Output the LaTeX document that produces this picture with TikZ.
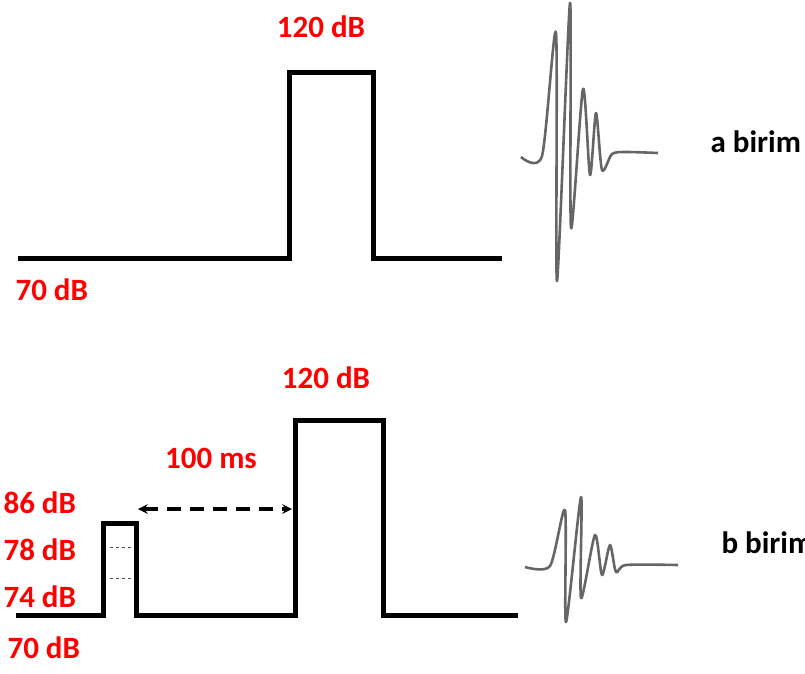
\documentclass[tikz,border=0pt]{standalone}
\usepackage{fontspec}
\setmainfont{Carlito}
\usetikzlibrary{positioning}

\begin{document}
\begin{tikzpicture}[>=stealth, x=1pt, y=-1pt,
    trace/.style={line width=5pt, line join=miter},
    wave/.style={black!60, line width=2.6pt, line join=round},
    dblbl/.style={red, anchor=base, font=\fontsize{31}{37}\selectfont\bfseries},
    unitlbl/.style={anchor=base west, font=\fontsize{31}{37}\selectfont\bfseries}]

    \useasboundingbox (0,0) rectangle (805,673);

    % ---------- 上：单个强刺激 ----------
    \draw[trace] (18,258) -- (289,258) -- (289,72) -- (373,72) -- (373,258) -- (502,258);
    \node[dblbl] (topHigh) at (321,37) {120 dB};
    \node[dblbl, anchor=base west] (topBase) at (12,300) {70 dB};

    % 反应波形 a
    \draw[wave] plot[smooth, tension=0.45] coordinates {
        (521,157) (542,156) (556,33) (557,281) (570,3) (571,228)
        (583,89) (590,175) (596,113) (602,170) (612,154) (626,152) (658,153)};
    \node[unitlbl] (unitA) at (707,152) {a birim};

    % ---------- 下：预刺激 + 强刺激 ----------
    \draw[trace] (16,615) -- (103,615) -- (103,523) -- (136,523) -- (136,615)
        -- (295,615) -- (295,420) -- (383,420) -- (383,615) -- (518,615);

    % 预刺激内的强度刻度
    \draw[dashed, black!70, line width=0.8pt] (110,547) -- (131,547);
    \draw[dashed, black!70, line width=0.8pt] (110,578) -- (131,578);

    \node[dblbl] (botHigh) at (326,388) {120 dB};
    \foreach \db/\y in {86/513, 78/560, 74/607}{
        \node[dblbl, anchor=base west] (pre\db) at (0,\y) {\db{} dB};
    }
    \node[dblbl, anchor=base west] (botBase) at (4,658) {70 dB};

    % ---------- 间隔 ----------
    \coordinate (gapL) at (138,509);
    \coordinate (gapR) at (292,509);
    \draw[<->, line width=3.2pt, dash pattern=on 14pt off 9pt] (gapL) -- (gapR);
    \node[dblbl] (gap) at (211,468) {100 ms};

    % 反应波形 b
    \draw[wave] plot[smooth, tension=0.45] coordinates {
        (525,567) (550,566) (565,510) (566,622) (581,497) (581,598)
        (595,535) (602,575) (610,545) (616,572) (626,565) (678,565)};
    \node[unitlbl] (unitB) at (718,553) {b birim};

\end{tikzpicture}
\end{document}
